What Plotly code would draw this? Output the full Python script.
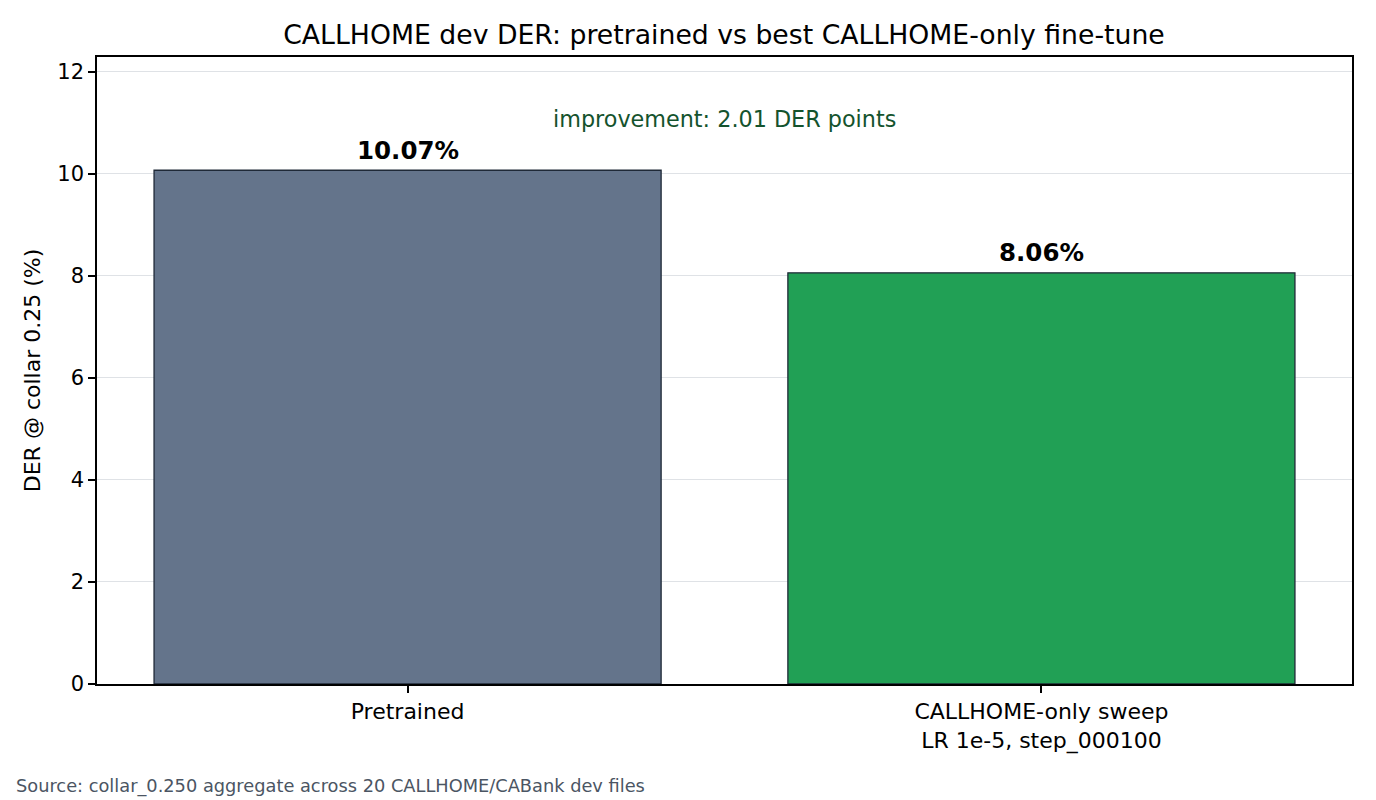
import plotly.graph_objects as go

CATEGORIES = ["Pretrained", "CALLHOME-only sweep<br>LR 1e-5, step_000100"]
DER_VALUES = [10.07, 8.06]
BAR_COLORS = ["#64748b", "#21a055"]
IMPROVEMENT = DER_VALUES[0] - DER_VALUES[1]

FONT = "DejaVu Sans"
# page body adds an 8px offset, so margins are shifted to compensate
OFFSET = 8

fig = go.Figure()

fig.add_trace(
    go.Bar(
        x=[0, 1],
        y=DER_VALUES,
        width=0.8,
        marker=dict(color=BAR_COLORS, line=dict(color="#1f2937", width=1.3)),
        hovertemplate="%{y:.2f}%<extra></extra>",
        showlegend=False,
    )
)

# value labels on top of each bar
for i, v in enumerate(DER_VALUES):
    fig.add_annotation(
        x=i,
        y=v,
        text="<b>%.2f%%</b>" % v,
        showarrow=False,
        yanchor="middle",
        yshift=20,
        font=dict(family=FONT, size=24.5, color="#000000"),
    )

fig.add_annotation(
    x=0.5,
    y=max(DER_VALUES) * 1.1,
    text="improvement: %.2f DER points" % IMPROVEMENT,
    showarrow=False,
    yanchor="middle",
    font=dict(family=FONT, size=22.3, color="#14532d"),
)

fig.add_annotation(
    xref="paper",
    yref="paper",
    x=-0.066,
    y=-0.163,
    xanchor="left",
    yanchor="middle",
    text="Source: collar_0.250 aggregate across 20 CALLHOME/CABank dev files",
    showarrow=False,
    font=dict(family=FONT, size=17.8, color="#4b5563"),
)

fig.update_layout(
    title=dict(
        text="CALLHOME dev DER: pretrained vs best CALLHOME-only fine-tune",
        x=(724 - OFFSET) / 1376,
        xanchor="center",
        y=1 - (35 - OFFSET) / 800,
        yanchor="middle",
        font=dict(family=FONT, size=26.7, color="#000000"),
    ),
    width=1376,
    height=800,
    margin=dict(l=97 - OFFSET, r=24 + OFFSET, t=57 - OFFSET, b=116 + OFFSET),
    paper_bgcolor="white",
    plot_bgcolor="white",
    font=dict(family=FONT, size=22, color="#000000"),
)

fig.update_xaxes(
    tickmode="array",
    tickvals=[0, 1],
    ticktext=CATEGORIES,
    range=[-0.49, 1.49],
    showline=True,
    linecolor="#000000",
    linewidth=1.6,
    mirror=True,
    ticks="outside",
    ticklen=7,
    tickwidth=1.6,
    tickcolor="#000000",
    showgrid=False,
    zeroline=False,
    tickfont=dict(family=FONT, size=22),
)

fig.update_yaxes(
    title=dict(text="DER @ collar 0.25 (%)", font=dict(family=FONT, size=22), standoff=11),
    range=[0, 12.29],
    tickmode="linear",
    tick0=0,
    dtick=2,
    showline=True,
    linecolor="#000000",
    linewidth=1.6,
    mirror=True,
    ticks="outside",
    ticklen=7,
    tickwidth=1.6,
    tickcolor="#000000",
    showgrid=True,
    gridcolor="#dfe2e6",
    gridwidth=1.2,
    zeroline=False,
    tickfont=dict(family=FONT, size=21),
)

fig.write_html("out.html")
